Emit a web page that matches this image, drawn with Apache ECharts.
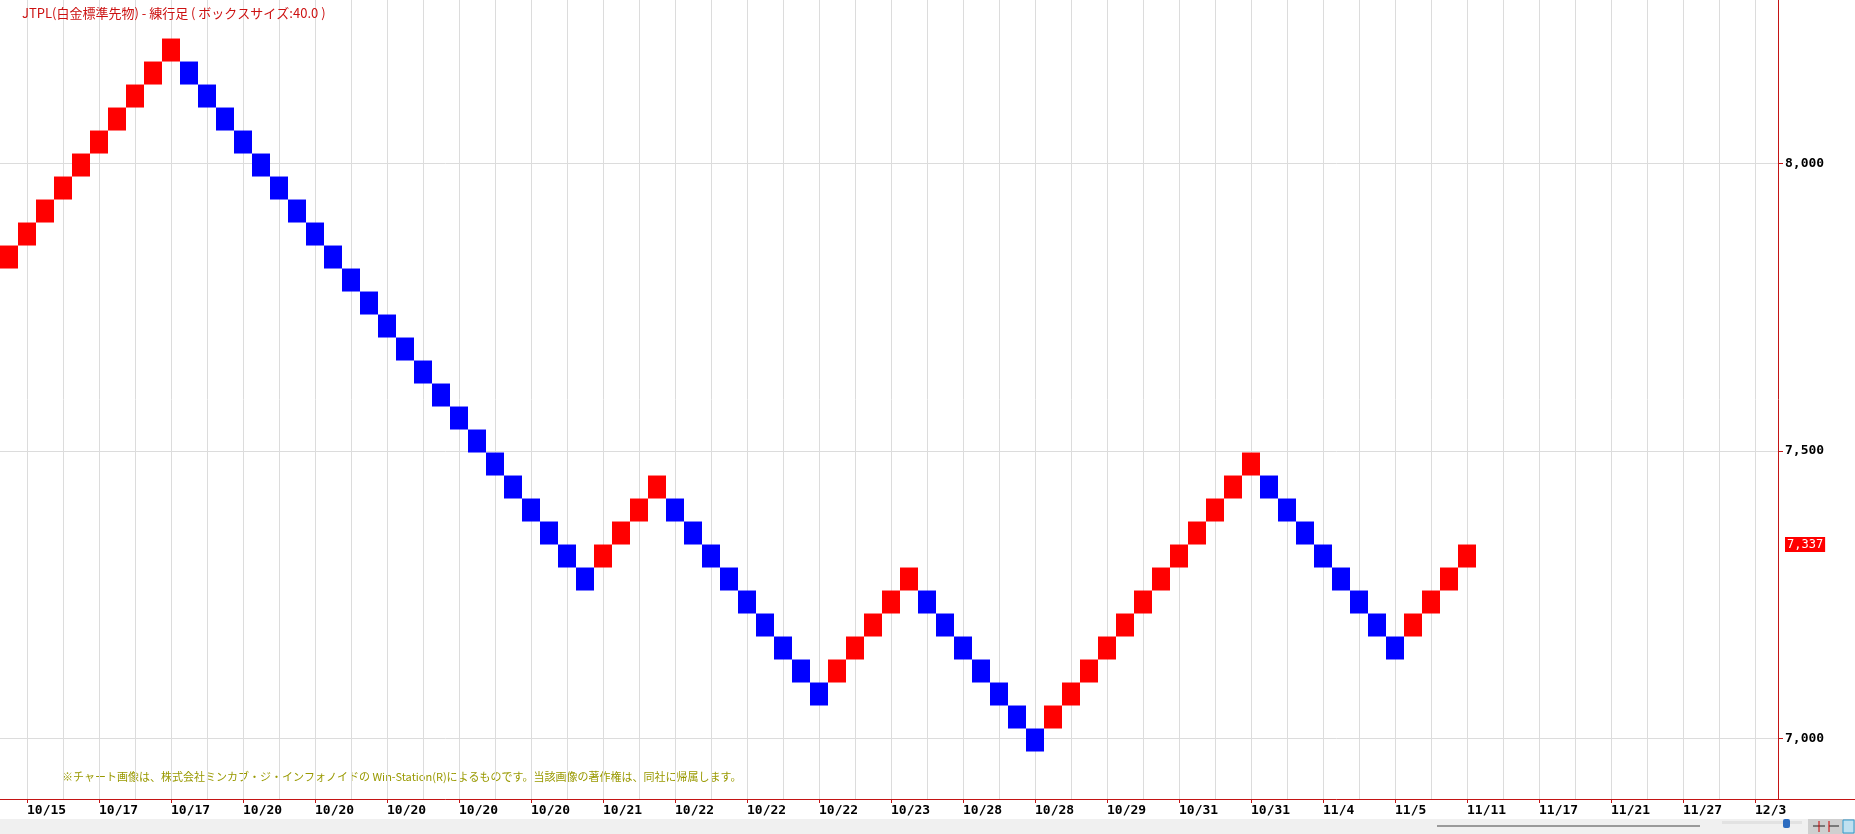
<!DOCTYPE html>
<html>
<head>
<meta charset="utf-8">
<style>
  html, body { margin: 0; padding: 0; background: #ffffff; }
  #chart { width: 1855px; height: 834px; }
</style>
<script src="https://cdn.jsdelivr.net/npm/echarts@6.0.0/dist/echarts.min.js"></script>
</head>
<body>
<div id="chart"></div>
<script>
// ---- data ----
const titleText = 'JTPL(白金標準先物) - 練行足 ( ボックスサイズ:40.0 )';
const noteText = '※チャート画像は、株式会社ミンカブ・ジ・インフォノイドの Win-Station(R)によるものです。当該画像の著作権は、同社に帰属します。';
const boxSize = 40;
const lastPrice = 7337;
const yTicks = [7000, 7500, 8000];
const xTickLabels = ['10/15', '10/17', '10/17', '10/20', '10/20', '10/20', '10/20', '10/20', '10/21',
  '10/22', '10/22', '10/22', '10/23', '10/28', '10/28', '10/29', '10/31', '10/31', '11/4', '11/5',
  '11/11', '11/17', '11/21', '11/27', '12/3'];
const slotCount = 99;        // brick slots on the time axis (incl. empty future slots)
const labelEvery = 4;        // a date label every 4 bricks
const labelStart = 1;        // first labelled brick
// lower edge of each renko brick
const brickLow = [
  7817, 7857, 7897, 7937, 7977, 8017, 8057, 8097, 8137, 8177,
  8137, 8097, 8057, 8017, 7977, 7937, 7897, 7857, 7817, 7777, 7737, 7697, 7657, 7617, 7577, 7537, 7497, 7457, 7417, 7377, 7337, 7297, 7257,
  7297, 7337, 7377, 7417,
  7377, 7337, 7297, 7257, 7217, 7177, 7137, 7097, 7057,
  7097, 7137, 7177, 7217, 7257,
  7217, 7177, 7137, 7097, 7057, 7017, 6977,
  7017, 7057, 7097, 7137, 7177, 7217, 7257, 7297, 7337, 7377, 7417, 7457,
  7417, 7377, 7337, 7297, 7257, 7217, 7177, 7137,
  7177, 7217, 7257, 7297
];
// 1 = up brick (red), -1 = down brick (blue)
const brickDir = [
  1, 1, 1, 1, 1, 1, 1, 1, 1, 1,
  -1, -1, -1, -1, -1, -1, -1, -1, -1, -1, -1, -1, -1, -1, -1, -1, -1, -1, -1, -1, -1, -1, -1,
  1, 1, 1, 1,
  -1, -1, -1, -1, -1, -1, -1, -1, -1,
  1, 1, 1, 1, 1,
  -1, -1, -1, -1, -1, -1, -1,
  1, 1, 1, 1, 1, 1, 1, 1, 1, 1, 1, 1,
  -1, -1, -1, -1, -1, -1, -1, -1,
  1, 1, 1, 1
];

// ---- build ----
const categories = [];
for (let i = 0; i < slotCount; i++) {
  const k = (i - labelStart) / labelEvery;
  categories.push(Number.isInteger(k) && k >= 0 && k < xTickLabels.length ? xTickLabels[k] : '');
}
const bricks = brickLow.map((lo, i) => [i, lo, lo + boxSize, brickDir[i]]);

const AXIS_RED = '#c41414';
const GRID_GREY = '#dcdcdc';
const labelInterval = (idx) => idx % labelEvery === labelStart;
const fmt = (v) => Math.round(v).toLocaleString('en-US');

const PLOT_W = 1782, PLOT_H = 799;
const slotW = PLOT_W / slotCount;          // 18 px per brick
const gridStart = slotW * 1.5;             // centre of brick 1
const gridSlots = slotCount - 3;           // vertical grid spans brick 1 .. brick 97

const chart = echarts.init(document.getElementById('chart'), null, { renderer: 'canvas' });
chart.setOption({
  animation: false,
  backgroundColor: '#ffffff',
  title: {
    text: titleText,
    left: 17, top: 2,
    textStyle: { color: '#cc1111', fontSize: 13, fontWeight: 'normal', fontFamily: '"Noto Sans CJK JP", sans-serif' }
  },
  grid: [
    { left: 0, top: 0, width: PLOT_W, height: PLOT_H, containLabel: false, outerBoundsMode: 'none' },
    { left: gridStart, top: 0, width: slotW * gridSlots, height: PLOT_H, containLabel: false, outerBoundsMode: 'none' }
  ],
  xAxis: [{
    type: 'category',
    gridIndex: 0,
    data: categories,
    boundaryGap: true,
    axisLine: { show: true, lineStyle: { color: AXIS_RED, width: 1 } },
    axisTick: { show: true, alignWithLabel: true, interval: labelInterval, length: 4, lineStyle: { color: AXIS_RED } },
    axisLabel: {
      show: true, interval: labelInterval, align: 'left', margin: 5,
      color: '#000', fontSize: 13, fontWeight: 'bold', fontFamily: '"DejaVu Sans Mono", monospace'
    },
    splitLine: { show: false }
  }, {
    // helper axis: vertical grid lines every 2 bricks, through the centres of odd bricks
    type: 'value',
    gridIndex: 1,
    min: 0,
    max: gridSlots,
    interval: 2,
    axisLine: { show: false },
    axisTick: { show: false },
    axisLabel: { show: false },
    splitLine: { show: true, lineStyle: { color: GRID_GREY, width: 1 } }
  }],
  yAxis: [{
    type: 'value',
    gridIndex: 0,
    position: 'right',
    offset: -4,
    min: 6894.4,
    max: 8284,
    axisLine: { show: true, lineStyle: { color: AXIS_RED, width: 1 } },
    axisTick: { show: true, inside: false, length: 5, customValues: yTicks, lineStyle: { color: AXIS_RED } },
    axisLabel: {
      show: true, customValues: yTicks, margin: 7, formatter: fmt,
      color: '#000', fontSize: 13, fontWeight: 'bold', fontFamily: '"DejaVu Sans Mono", monospace'
    },
    splitLine: { show: true, lineStyle: { color: GRID_GREY, width: 1 } }
  }, {
    type: 'value',
    gridIndex: 0,
    position: 'right',
    offset: -4,
    min: 6894.4,
    max: 8284,
    axisLine: { show: false },
    axisTick: { show: false },
    splitLine: { show: false },
    axisLabel: {
      show: true, customValues: [lastPrice], margin: 7, formatter: fmt,
      color: '#ffffff', backgroundColor: '#ff0000', padding: [2, 2, 1, 2],
      fontSize: 12, fontFamily: '"DejaVu Sans Mono", monospace'
    }
  }, {
    type: 'value',
    gridIndex: 1,
    show: false,
    min: 0,
    max: 1
  }],
  series: [{
    type: 'custom',
    xAxisIndex: 0,
    yAxisIndex: 0,
    data: bricks,
    encode: { x: 0, y: [1, 2] },
    z: 5,
    renderItem: function (params, api) {
      const i = api.value(0);
      const lo = api.coord([i, api.value(1)]);
      const hi = api.coord([i, api.value(2)]);
      const w = api.size([1, 0])[0];
      return {
        type: 'rect',
        shape: { x: lo[0] - w / 2, y: hi[1], width: w, height: lo[1] - hi[1] },
        style: { fill: api.value(3) > 0 ? '#ff0000' : '#0000ff' }
      };
    }
  }],
  graphic: [
    { type: 'text', left: 62, top: 771, style: { text: noteText, fill: '#999900', font: '11px "Noto Sans CJK JP", sans-serif' } },
    { type: 'line', shape: { x1: 1782, y1: 799.5, x2: 1855, y2: 799.5 }, style: { stroke: AXIS_RED, lineWidth: 1 } },
    { type: 'rect', shape: { x: 0, y: 819, width: 1855, height: 15 }, style: { fill: '#f0f0f0' }, z: -1 },
    { type: 'line', shape: { x1: 1437, y1: 826, x2: 1700, y2: 826 }, style: { stroke: '#9a9a9a', lineWidth: 2 } },
    { type: 'rect', shape: { x: 1722, y: 821, width: 80, height: 3 }, style: { fill: '#e2e2e2' } },
    { type: 'rect', shape: { x: 1783, y: 819, width: 7, height: 9, r: 2 }, style: { fill: '#2d6cc0' } },
    { type: 'rect', shape: { x: 1808, y: 819, width: 47, height: 15 }, style: { fill: '#cfcfcf' } },
    { type: 'line', shape: { x1: 1813, y1: 826, x2: 1825, y2: 826 }, style: { stroke: '#222', lineWidth: 1 } },
    { type: 'line', shape: { x1: 1819, y1: 821, x2: 1819, y2: 832 }, style: { stroke: '#c00', lineWidth: 1 } },
    { type: 'line', shape: { x1: 1829, y1: 826, x2: 1839, y2: 826 }, style: { stroke: '#222', lineWidth: 1 } },
    { type: 'line', shape: { x1: 1829, y1: 821, x2: 1829, y2: 832 }, style: { stroke: '#c00', lineWidth: 1 } },
    { type: 'rect', shape: { x: 1843, y: 820, width: 11, height: 13 }, style: { fill: '#bfe0f0', stroke: '#3399cc', lineWidth: 1 } }
  ]
});
</script>
</body>
</html>
